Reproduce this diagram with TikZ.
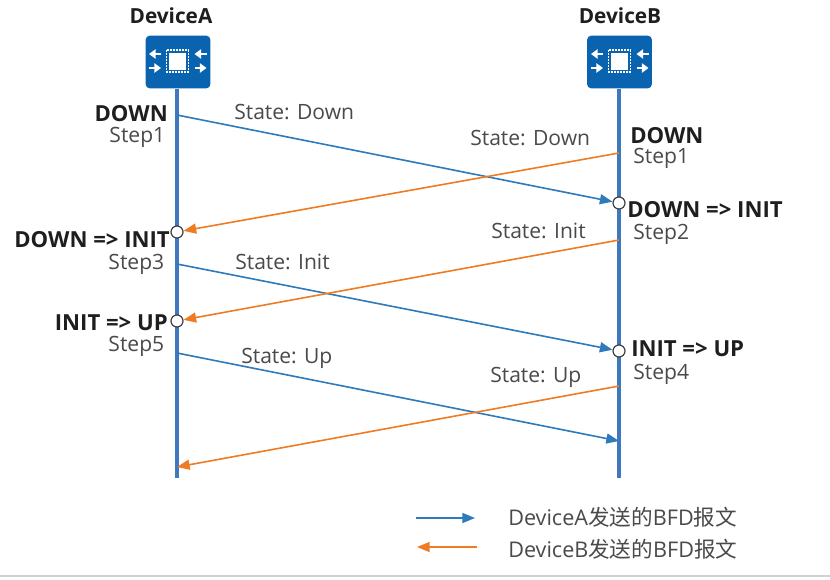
\documentclass[tikz,border=0pt]{standalone}
\usepackage{fontspec}
\setmainfont{Open Sans}
\newfontfamily\cjkf{Noto Sans CJK SC}
\usetikzlibrary{arrows.meta}
\definecolor{hwblue}{HTML}{0A63AE}
\definecolor{lifeline}{HTML}{3F78BE}
\definecolor{hworange}{HTML}{EF7B22}
\definecolor{txt}{HTML}{4A4A4A}
\definecolor{dark}{HTML}{1E1E1E}
\tikzset{
  lbl/.style={font=\fontsize{15.8pt}{18pt}\selectfont,text=txt,inner sep=0pt},
  leglbl/.style={font=\fontsize{16.2pt}{18pt}\selectfont,text=txt,inner sep=0pt},
  state/.style={font=\fontsize{16.6pt}{18pt}\selectfont\bfseries,text=dark,inner sep=0pt},
  life/.style={draw=lifeline,line width=2.4pt},
  amsg/.style={draw=hwblue!85!white,line width=1.2pt,-{Triangle[length=9.5pt,width=7.5pt]}},
  bmsg/.style={draw=hworange,line width=1.2pt,-{Triangle[length=9.5pt,width=7.5pt]}},
  dot/.style={circle,draw=dark!85,fill=white,line width=0.9pt,minimum size=9pt,inner sep=0pt},
  devicebox/.style={fill=hwblue,rounded corners=3pt,minimum width=48.5pt,minimum height=39.5pt,inner sep=0pt},
  chiparrow/.style={white,line width=2pt,-{Triangle[length=5pt,width=7pt]}},
}
\newcommand{\devicon}[1]{%
  \begin{scope}[shift={(#1)}]
    \fill[white] (-8.5,-8.5) rectangle (8.5,8.5);
    \draw[white,line width=1.3pt,densely dotted] (-11,-11) rectangle (11,11);
    \draw[chiparrow] (-16.5,-7) -- (-28.5,-7);
    \draw[chiparrow] (29,-7) -- (17,-7);
    \draw[chiparrow] (-28.5,7) -- (-16.5,7);
    \draw[chiparrow] (17,7) -- (29,7);
  \end{scope}}
\begin{document}
\begin{tikzpicture}[x=0.75pt,y=-0.75pt]
\useasboundingbox (0,0) rectangle (830,579);
\fill[white] (0,0) rectangle (830,579);
\draw[black!18,line width=0.8pt] (0,576) -- (830,576);

\node[devicebox] (boxA) at (178,62) {};
\node[devicebox] (boxB) at (619.5,62) {};
\node[font=\fontsize{15.6pt}{18pt}\selectfont\bfseries,text=dark,inner sep=0pt] (nameA) at (171,16) {DeviceA};
\node[font=\fontsize{15.6pt}{18pt}\selectfont\bfseries,text=dark,inner sep=0pt] (nameB) at (620,16) {DeviceB};

\coordinate (endA) at (177,478);
\coordinate (endB) at (619,478);
\draw[life] (boxA.south -| endA) -- (endA);
\draw[life] (boxB.south -| endB) -- (endB);
\devicon{177.5,61}
\devicon{619.5,61}

% dots
\node[dot] (a1) at (177,232) {};
\node[dot] (a2) at (177,321) {};
\node[dot] (b1) at (619,203) {};
\node[dot] (b2) at (619,351) {};

% anchors on lifelines
\coordinate (as1) at (177,115);
\coordinate (as2) at (177,264);
\coordinate (as3) at (177,353);
\coordinate (bs1) at (619,153);
\coordinate (bs2) at (619,240);
\coordinate (bs3) at (619,386);
\coordinate (bt3) at (619,441);
\coordinate (at3) at (177,467);

\draw[amsg] (as1) -- (b1);
\draw[amsg] (as2) -- (b2);
\draw[amsg] (as3) -- (bt3);
\draw[bmsg] (bs1) -- (a1);
\draw[bmsg] (bs2) -- (a2);
\draw[bmsg] (bs3) -- (at3);

% left labels
\node[state,anchor=east] (sA1) at (168,114) {DOWN};
\node[lbl,anchor=east] (tA1) at (165.5,137.5) {Step1};
\node[state,anchor=east] (sA2) at (170,240) {DOWN => INIT};
\node[lbl,anchor=east] (tA2) at (164.5,264.5) {Step3};
\node[state,anchor=east] (sA3) at (168,323) {INIT => UP};
\node[lbl,anchor=east] (tA3) at (164.5,346.5) {Step5};

% right labels
\node[state,anchor=west] (sB1) at (630,136) {DOWN};
\node[lbl,anchor=west] (tB1) at (633,158.5) {Step1};
\node[state,anchor=west] (sB2) at (627,210) {DOWN => INIT};
\node[lbl,anchor=west] (tB2) at (633,234.5) {Step2};
\node[state,anchor=west] (sB3) at (631,349) {INIT => UP};
\node[lbl,anchor=west] (tB3) at (633,374.5) {Step4};

% message labels
\node[lbl,anchor=west] (m1) at (234,112) {State: Down};
\node[lbl,anchor=west] (m2) at (470,138) {State: Down};
\node[lbl,anchor=west] (m3) at (491,231) {State: Init};
\node[lbl,anchor=west] (m4) at (235,262) {State: Init};
\node[lbl,anchor=west] (m5) at (241,358.5) {State: Up};
\node[lbl,anchor=west] (m6) at (490,377) {State: Up};

% legend
\coordinate (la1) at (416,518);
\coordinate (la2) at (475,518);
\coordinate (lb1) at (477,547);
\coordinate (lb2) at (417,547);
\draw[amsg] (la1) -- (la2);
\draw[bmsg] (lb1) -- (lb2);
\node[leglbl,anchor=west] (lega) at (508,517) {DeviceA{\cjkf 发送的}BFD{\cjkf 报文}};
\node[leglbl,anchor=west] (legb) at (508,549) {DeviceB{\cjkf 发送的}BFD{\cjkf 报文}};
\end{tikzpicture}
\end{document}
